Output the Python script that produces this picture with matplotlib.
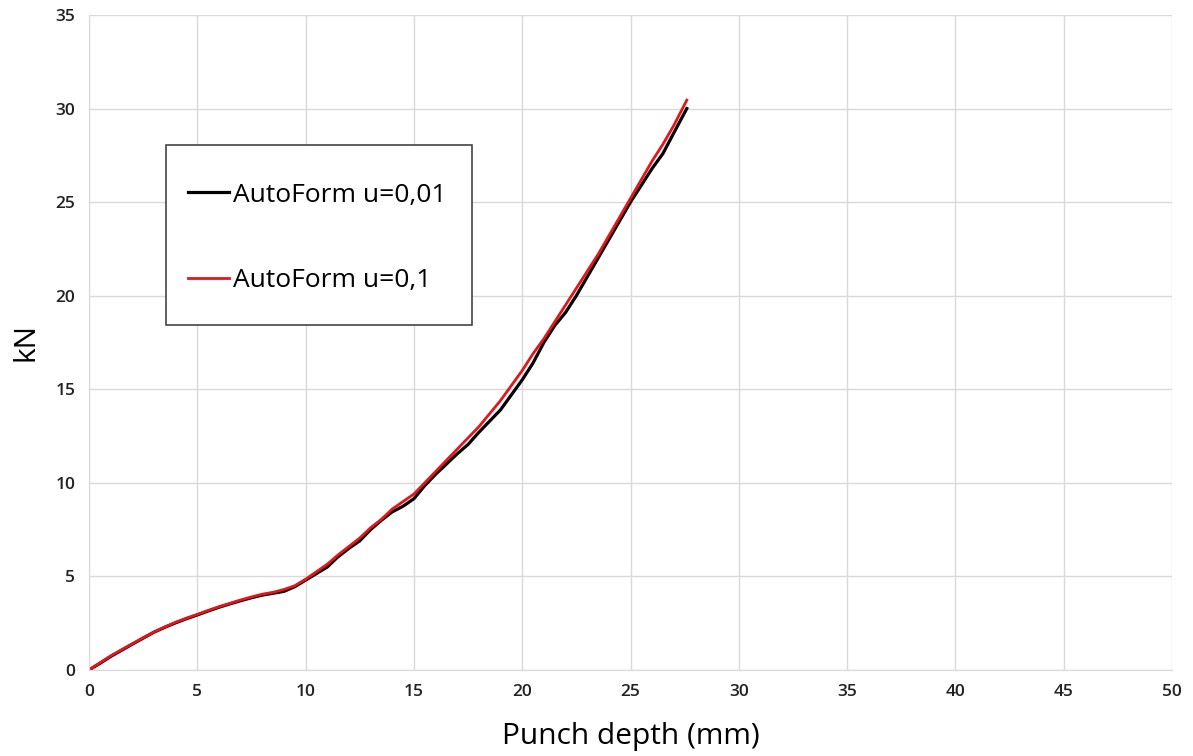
import numpy as np
import matplotlib.pyplot as plt
from matplotlib.patches import Rectangle

# punch depth (mm) and force (kN)
depth_a = [0, 0.5, 1, 1.5, 2, 2.5, 3, 3.5, 4, 4.5, 5, 5.5, 6, 6.5, 7, 7.5, 8, 8.5, 9, 9.5,
           10, 10.5, 11, 11.5, 12, 12.5, 13, 13.5, 14, 14.5, 15, 15.5, 16, 16.5, 17, 17.5,
           18, 18.5, 19, 19.5, 20, 20.5, 21, 21.5, 22, 22.5, 23, 23.5, 24, 24.5, 25, 25.5,
           26, 26.5, 27, 27.6]
force_a = [0, 0.35, 0.72, 1.05, 1.38, 1.7, 2.02, 2.28, 2.52, 2.74, 2.94, 3.15, 3.35, 3.53,
           3.7, 3.86, 4.0, 4.1, 4.2, 4.45, 4.8, 5.15, 5.5, 6.05, 6.5, 6.9, 7.5, 8.0, 8.45,
           8.75, 9.15, 9.85, 10.45, 11.0, 11.55, 12.05, 12.7, 13.3, 13.9, 14.7, 15.5, 16.4,
           17.5, 18.4, 19.1, 20.0, 21.0, 22.0, 23.0, 24.0, 25.0, 25.9, 26.8, 27.6, 28.7, 30.0]

depth_b = [0, 0.5, 1, 1.5, 2, 2.5, 3, 3.5, 4, 4.5, 5, 5.5, 6, 6.5, 7, 7.5, 8, 8.5, 9, 9.5,
           10, 10.5, 11, 11.5, 12, 12.5, 13, 13.5, 14, 14.5, 15, 15.5, 16, 16.5, 17, 17.5,
           18, 18.5, 19, 19.5, 20, 20.5, 21, 21.5, 22, 22.5, 23, 23.5, 24, 24.5, 25, 25.5,
           26, 26.5, 27, 27.6]
force_b = [0, 0.38, 0.75, 1.08, 1.4, 1.72, 2.02, 2.3, 2.55, 2.77, 2.97, 3.18, 3.38, 3.56,
           3.74, 3.9, 4.05, 4.15, 4.3, 4.5, 4.85, 5.25, 5.65, 6.15, 6.6, 7.05, 7.6, 8.05,
           8.6, 9.0, 9.4, 10.0, 10.6, 11.2, 11.8, 12.4, 13.0, 13.7, 14.4, 15.2, 16.0, 16.9,
           17.7, 18.6, 19.5, 20.4, 21.3, 22.2, 23.2, 24.2, 25.2, 26.2, 27.2, 28.1, 29.1, 30.45]

labels = ['AutoForm u=0,01', 'AutoForm u=0,1']

plt.rcParams['font.family'] = ['Open Sans', 'DejaVu Sans']

fig = plt.figure(figsize=(11.93, 7.56), dpi=100)
ax = fig.add_axes([0.0746, 0.1138, 0.9078, 0.8664])

ax.plot(depth_a, force_a, color='black', lw=2.3, label=labels[0])
ax.plot(depth_b, force_b, color='#e8141b', lw=2.0, label=labels[1])

ax.set_xlim(0, 50)
ax.set_ylim(0, 35)
ax.set_xticks(np.arange(0, 51, 5))
ax.set_yticks(np.arange(0, 36, 5))
ax.grid(True, color='#d9d9d9', lw=1)
ax.set_axisbelow(True)
for s in ['top', 'right']:
    ax.spines[s].set_visible(False)
for s in ['left', 'bottom']:
    ax.spines[s].set_color('#d9d9d9')
ax.tick_params(length=0, labelsize=12.5, pad=10)
for lab in ax.get_xticklabels() + ax.get_yticklabels():
    lab.set_fontweight('semibold')
    lab.set_color('#222222')

ax.set_xlabel('Punch depth (mm)', fontsize=21.5, labelpad=16)
ax.set_ylabel('kN', fontsize=21.5)
ax.yaxis.set_label_coords(-0.045, 0.5)

# legend box
ax.add_patch(Rectangle((0.0711, 0.5267), 0.2825, 0.2748, transform=ax.transAxes,
                       facecolor='white', edgecolor='#444444', lw=1.2, zorder=4))
leg = ax.legend(loc='upper left', bbox_to_anchor=(0.0914, 0.744), fontsize=19,
                frameon=False, handlelength=1.55, handletextpad=0.15,
                labelspacing=2.3, borderpad=0, borderaxespad=0)
leg.set_zorder(5)

plt.savefig('out.png', dpi=100)
